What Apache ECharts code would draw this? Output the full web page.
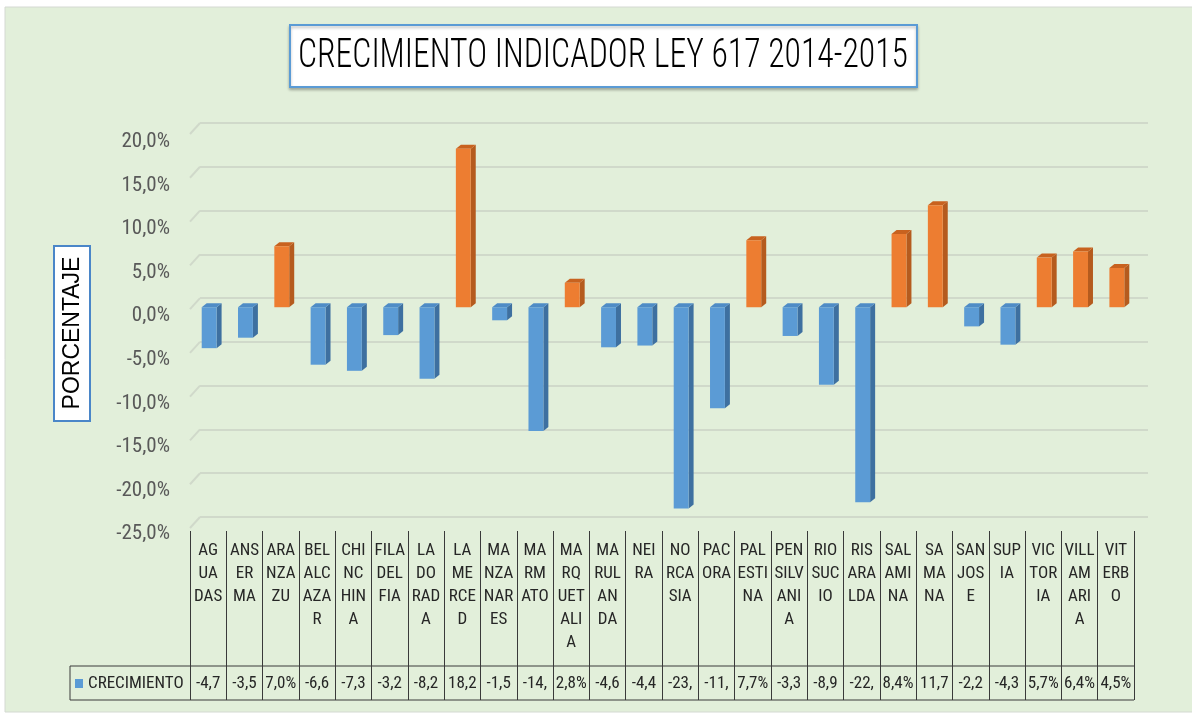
<!DOCTYPE html>
<html>
<head>
<meta charset="utf-8">
<script src="https://cdn.jsdelivr.net/npm/echarts@6/dist/echarts.min.js"></script>
<style>
html,body{margin:0;padding:0;background:#ffffff;}
#chart{width:1192px;height:717px;}
</style>
</head>
<body>
<div id="chart"></div>
<script>
// ---- data ----
var municipios = ['AGUADAS','ANSERMA','ARANZAZU','BELALCAZAR','CHINCHINA','FILADELFIA','LA DORADA','LA MERCED','MANZANARES','MARMATO','MARQUETALIA','MARULANDA','NEIRA','NORCASIA','PACORA','PALESTINA','PENSILVANIA','RIOSUCIO','RISARALDA','SALAMINA','SAMANA','SAN JOSE','SUPIA','VICTORIA','VILLAMARIA','VITERBO'];
var categoryLabels = ['AG\nUA\nDAS','ANS\nER\nMA','ARA\nNZA\nZU','BEL\nALC\nAZA\nR','CHI\nNC\nHIN\nA','FILA\nDEL\nFIA','LA\nDO\nRAD\nA','LA\nME\nRCE\nD','MA\nNZA\nNAR\nES','MA\nRM\nATO','MA\nRQ\nUET\nALI\nA','MA\nRUL\nAN\nDA','NEI\nRA','NO\nRCA\nSIA','PAC\nORA','PAL\nESTI\nNA','PEN\nSILV\nANI\nA','RIO\nSUC\nIO','RIS\nARA\nLDA','SAL\nAMI\nNA','SA\nMA\nNA','SAN\nJOS\nE','SUP\nIA','VIC\nTOR\nIA','VILL\nAM\nARI\nA','VIT\nERB\nO'];
var crecimiento = [-4.7,-3.5,7.0,-6.6,-7.3,-3.2,-8.2,18.2,-1.5,-14.2,2.8,-4.6,-4.4,-23.1,-11.6,7.7,-3.3,-8.9,-22.4,8.4,11.7,-2.2,-4.3,5.7,6.4,4.5];
var tableLabels = ['-4,7','-3,5','7,0%','-6,6','-7,3','-3,2','-8,2','18,2','-1,5','-14,','2,8%','-4,6','-4,4','-23,','-11,','7,7%','-3,3','-8,9','-22,','8,4%','11,7','-2,2','-4,3','5,7%','6,4%','4,5%'];
var yTicks = [-25,-20,-15,-10,-5,0,5,10,15,20];
var seriesName = 'CRECIMIENTO';
var titleText = 'CRECIMIENTO INDICADOR LEY 617 2014-2015';
var yAxisTitle = 'PORCENTAJE';
var yMin = -25, yMax = 20, yStep = 5;

// ---- style ----
var COND = '"Roboto Condensed","Liberation Sans",Arial,sans-serif';
var SANS = '"Liberation Sans",Arial,sans-serif';
var colNeg = {front:'#5B9BD5', side:'#3E70A0', top:'#4F8CC6'};
var colPos = {front:'#ED7D31', side:'#B55B1E', top:'#C8621F'};
var textDark = '#262626';
var lineDark = '#3a3a3a';
var gridColor = '#d0d9ca';

// fit the title text to the title box width
var titleFont = '300 40px ' + COND;
var mctx = document.createElement('canvas').getContext('2d');
mctx.font = titleFont;
var titleScale = 610 / mctx.measureText(titleText).width;

var chart = echarts.init(document.getElementById('chart'), null, {renderer:'canvas'});

var barData = crecimiento.map(function(v,i){ return [i, v]; });

function pct(v){ return v.toFixed(1).replace('.', ',') + '%'; }

var baseGraphics = [
  {type:'rect', z:-10, silent:true, shape:{x:5, y:7, width:1190, height:705},
   style:{fill:'#E2EFDA', stroke:'#d4d9d2', lineWidth:1}},
  {type:'rect', z:5, shape:{x:290, y:25, width:627, height:62},
   style:{fill:'#ffffff', stroke:'#5B9BD5', lineWidth:2, shadowBlur:3, shadowOffsetY:2, shadowColor:'rgba(0,0,0,0.25)'}},
  {type:'text', z:6, x:603, y:57, scaleX:titleScale, originX:0, originY:0,
   style:{text:titleText, font:titleFont, fill:'#000000', align:'center', verticalAlign:'middle'}},
  {type:'rect', z:5, shape:{x:54, y:246, width:36, height:175},
   style:{fill:'#ffffff', stroke:'#4A86C8', lineWidth:2}},
  {type:'text', z:6, x:73, y:333, rotation:Math.PI/2,
   style:{text:yAxisTitle, font:'23px ' + SANS, fill:'#000000', align:'center', verticalAlign:'middle'}},
  {type:'line', z:5, shape:{x1:70, y1:666, x2:1134, y2:666}, style:{stroke:lineDark, lineWidth:1}},
  {type:'line', z:5, shape:{x1:70, y1:700, x2:1134, y2:700}, style:{stroke:lineDark, lineWidth:1}},
  {type:'line', z:5, shape:{x1:70, y1:666, x2:70, y2:700}, style:{stroke:lineDark, lineWidth:1}},
  {type:'rect', z:6, shape:{x:75, y:679, width:8, height:9}, style:{fill:'#5B9BD5'}},
  {type:'text', z:6, x:88, y:684,
   style:{text:seriesName, font:'17px ' + COND, fill:textDark, align:'left', verticalAlign:'middle'}}
];

var option = {
  animation:false,
  backgroundColor:'transparent',
  grid:[
    {left:190, right:58, top:133, bottom:192, containLabel:false},
    {left:200, right:44, top:123, bottom:200, containLabel:false},
    {left:190, right:58, top:500, bottom:186, containLabel:false}
  ],
  xAxis:[
    {type:'category', gridIndex:0, data:municipios, boundaryGap:true,
     axisLine:{show:false}, axisTick:{show:false}, axisLabel:{show:false}, splitLine:{show:false}},
    {type:'category', gridIndex:1, data:municipios, boundaryGap:true,
     axisLine:{show:false}, axisTick:{show:false}, axisLabel:{show:false}, splitLine:{show:false}},
    {type:'category', gridIndex:2, data:categoryLabels, boundaryGap:true, position:'bottom',
     axisLine:{show:false},
     axisTick:{show:true, length:169, lineStyle:{color:lineDark, width:1}},
     axisLabel:{show:true, interval:0, margin:8, fontFamily:COND, fontSize:17, lineHeight:23, color:textDark, align:'center', verticalAlign:'top'},
     splitLine:{show:false}},
    {type:'category', gridIndex:2, data:tableLabels, boundaryGap:true, position:'bottom',
     axisLine:{show:false}, axisTick:{show:false},
     axisLabel:{show:true, interval:0, margin:141, fontFamily:COND, fontSize:17, lineHeight:23, color:textDark},
     splitLine:{show:false}}
  ],
  yAxis:[
    {type:'value', gridIndex:0, min:yMin, max:yMax, interval:yStep,
     axisLine:{show:false}, axisTick:{show:false}, splitLine:{show:false},
     axisLabel:{show:true, margin:20, fontFamily:COND, fontSize:21, lineHeight:18, color:'#595959', verticalAlign:'top', formatter:pct}},
    {type:'value', gridIndex:1, min:yMin, max:yMax, interval:yStep,
     axisLine:{show:false}, axisTick:{show:false}, axisLabel:{show:false},
     splitLine:{show:true, lineStyle:{color:gridColor, width:2}}},
    {type:'value', gridIndex:2, min:0, max:1, show:false}
  ],
  series:[{
    name:seriesName,
    type:'custom',
    xAxisIndex:0, yAxisIndex:0,
    data:barData,
    encode:{x:0, y:1},
    renderItem:function(params, api){
      var i = api.value(0), v = api.value(1);
      var p = api.coord([i, v]);
      var b = api.coord([i, 0]);
      var band = api.size([1, 0])[0];
      var w = band * 0.41;
      var d = 5, dy = 4;
      var x0 = p[0] - w / 2 + 1, x1 = x0 + w;
      var yTop = Math.min(p[1], b[1]), yBot = Math.max(p[1], b[1]);
      var c = v >= 0 ? colPos : colNeg;
      return {type:'group', children:[
        {type:'polygon', shape:{points:[[x1,yTop],[x1+d,yTop-dy],[x1+d,yBot-dy],[x1,yBot]]}, style:{fill:c.side}},
        {type:'polygon', shape:{points:[[x0,yTop],[x0+d,yTop-dy],[x1+d,yTop-dy],[x1,yTop]]}, style:{fill:c.top}},
        {type:'rect', shape:{x:x0, y:yTop, width:w, height:yBot-yTop}, style:{fill:c.front}}
      ]};
    }
  }],
  graphic:baseGraphics
};

chart.setOption(option);

// short perspective segments joining the floor-side of each gridline to the back wall
var slants = yTicks.map(function(t){
  var yb = chart.convertToPixel({yAxisIndex:1}, t);
  return {type:'line', z:-5, silent:true, shape:{x1:190, y1:yb + 11, x2:200, y2:yb},
          style:{stroke:gridColor, lineWidth:2}};
});
chart.setOption({graphic:baseGraphics.concat(slants)});
</script>
</body>
</html>
